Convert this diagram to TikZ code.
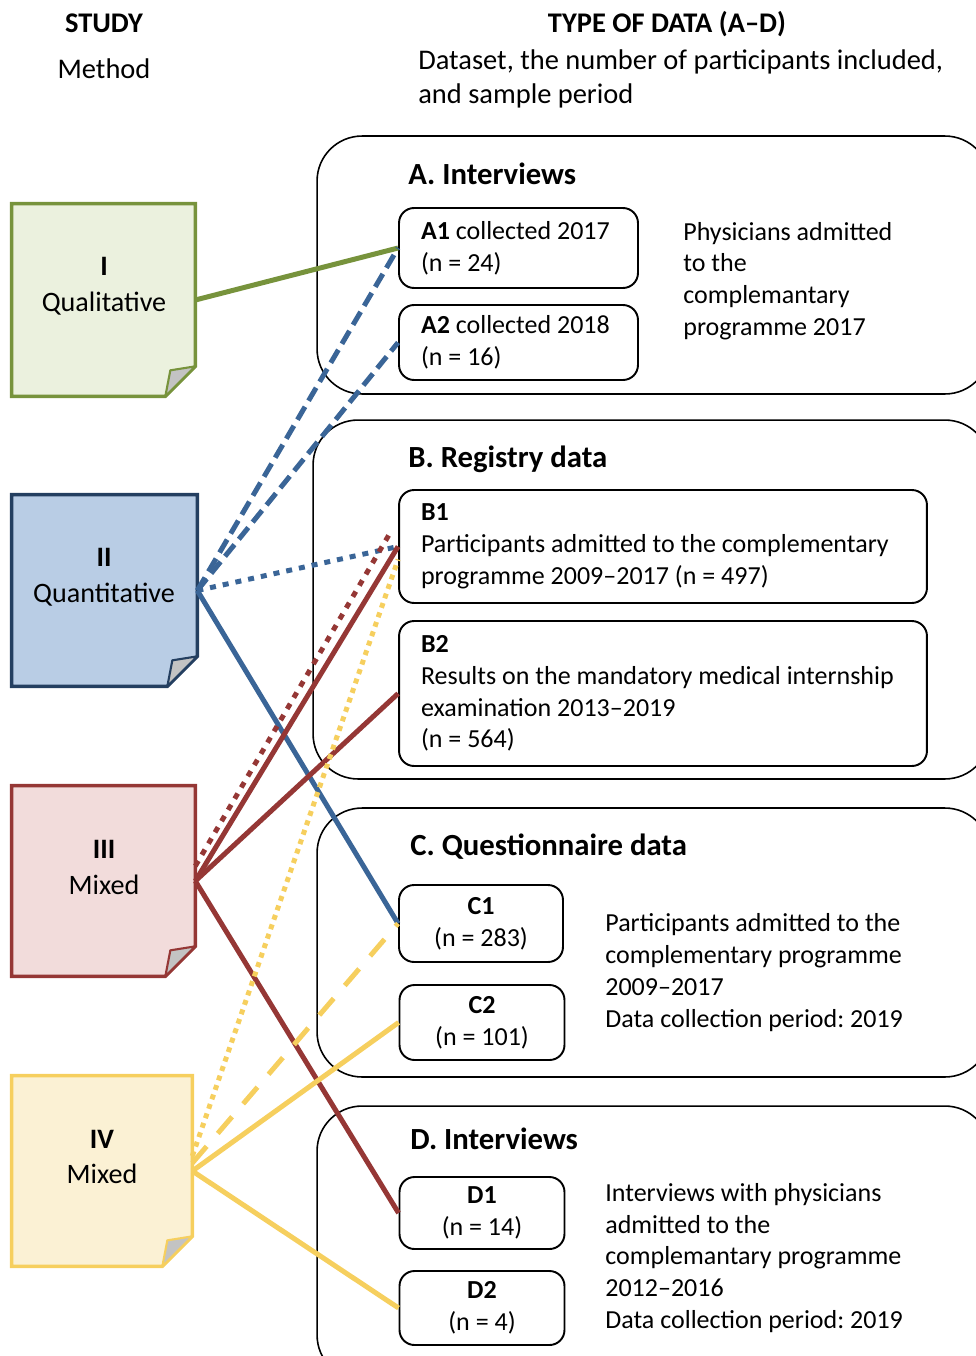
\documentclass[tikz,border=0pt]{standalone}
\usepackage{fontspec}
\setmainfont{Carlito}
\usetikzlibrary{calc,backgrounds}

\definecolor{lineI}{HTML}{77933C}
\definecolor{fillI}{HTML}{EBF1DE}
\definecolor{lineII}{HTML}{243F60}
\definecolor{fillII}{HTML}{B9CDE5}
\definecolor{connII}{HTML}{3A6597}
\definecolor{lineIII}{HTML}{953735}
\definecolor{fillIII}{HTML}{F2DCDB}
\definecolor{lineIV}{HTML}{F6CF5E}
\definecolor{fillIV}{HTML}{FBF1D4}
\definecolor{foldgrey}{HTML}{C3C3C3}

\newcommand{\datafont}{\fontsize{14.8}{18.1}\selectfont}
\newcommand{\studyfont}{\fontsize{16}{20.4}\selectfont}
\newcommand{\headfont}{\fontsize{16.2}{19.3}\selectfont}
\newcommand{\titlefont}{\fontsize{17.5}{21}\selectfont\bfseries}
\frenchspacing

\begin{document}
\begin{tikzpicture}[x=0.02cm, y=-0.02cm, font=\datafont,
  studybox/.style={minimum width=3.66cm, minimum height=3.84cm, inner sep=0pt},
  studytext/.style={align=center, font=\studyfont},
  studyshape/.style={line width=2pt, line join=miter},
  foldshape/.style={line width=1.2pt, fill=foldgrey, line join=round},
  grpbox/.style={draw, rounded corners=0.9cm, line width=0.9pt, inner sep=0pt, minimum width=13.46cm},
  grptitle/.style={anchor=west, inner sep=0pt, font=\titlefont},
  datbox/.style={draw, rounded corners=0.3cm, line width=1.1pt, inner xsep=0.44cm, inner ysep=0pt, align=flush left},
  smallbox/.style={draw, rounded corners=0.3cm, line width=1.1pt, inner sep=0pt, align=center, minimum width=3.3cm},
  sidetext/.style={anchor=west, align=flush left, inner sep=0pt},
  conn/.style={line width=0.1cm},
  dashedconn/.style={line width=0.1cm, dash pattern=on 0.3cm off 0.14cm},
  dottedconn/.style={line width=0.1cm, dash pattern=on 0.12cm off 0.14cm},
  ]
  \useasboundingbox (0,0) rectangle (975,1356);

  % Headers
  \node[font=\headfont\bfseries] (studyhead) at (104,23) {STUDY};
  \node[font=\headfont] (methodhead) at (104,69) {Method};
  \node[font=\headfont\bfseries] (datahead) at (667,24) {TYPE OF DATA (A--D)};
  \node[font=\headfont, anchor=west, align=flush left, inner sep=0pt] (datasub) at (418,79)
    {Dataset, the number of participants included,\\and sample period};

  % Study boxes
  \node[studybox] (I) at (103.5,300) {};
  \node[studybox, minimum width=3.7cm, minimum height=3.82cm] (II) at (104.5,590.5) {};
  \node[studybox, minimum height=3.8cm] (III) at (103.5,881) {};
  \node[studybox, minimum width=3.6cm, minimum height=3.8cm] (IV) at (102,1171) {};
  \node[studytext] (Itxt) at (104,286) {\textbf{I}\\Qualitative};
  \node[studytext] (IItxt) at (104,577.5) {\textbf{II}\\Quantitative};
  \node[studytext] (IIItxt) at (104,867.5) {\textbf{III}\\Mixed};
  \node[studytext] (IVtxt) at (102,1157) {\textbf{IV}\\Mixed};

  \begin{scope}[on background layer]
    \foreach \s in {I,II,III,IV} {
      \filldraw[studyshape, draw=line\s, fill=fill\s] (\s.north west) -- (\s.north east)
        -- ($(\s.south east)+(0,-30)$) -- ($(\s.south east)+(-30,0)$) -- (\s.south west) -- cycle;
      \filldraw[foldshape, draw=line\s] ($(\s.south east)+(0,-30)$) -- ($(\s.south east)+(-25,-26)$)
        -- ($(\s.south east)+(-30,0)$) -- cycle;
    }
  \end{scope}

  % Data groups
  \node[grpbox, minimum height=5.16cm] (grpA) at (653.5,265) {};
  \node[grpbox, minimum width=13.54cm, minimum height=7.18cm] (grpB) at (651.5,599.5) {};
  \node[grpbox, minimum height=5.38cm] (grpC) at (653.5,942.5) {};
  \node[grpbox, minimum height=5.48cm] (grpD) at (653.5,1243) {};
  \node[grptitle] (Atitle) at (408,174) {A. Interviews};
  \node[grptitle] (Btitle) at (408,459) {B. Registry data};
  \node[grptitle] (Ctitle) at (410,847) {C. Questionnaire data};
  \node[grptitle] (Dtitle) at (410,1139) {D. Interviews};

  % Datasets
  \node[datbox, text width=3.9cm, minimum height=1.6cm] (A1) at (518.5,248) {\textbf{A1} collected 2017\\(n = 24)};
  \node[datbox, text width=3.9cm, minimum height=1.5cm] (A2) at (518.5,342.5) {\textbf{A2} collected 2018\\(n = 16)};
  \node[datbox, text width=9.68cm, minimum height=2.26cm] (B1) at (663,546.5)
    {\textbf{B1}\\Participants admitted to the complementary\\programme 2009--2017 (n = 497)};
  \node[datbox, text width=9.68cm, minimum height=2.9cm] (B2) at (663,693.5)
    {\textbf{B2}\\Results on the mandatory medical internship\\examination 2013--2019\\(n = 564)};
  \node[smallbox, minimum width=3.28cm, minimum height=1.54cm] (C1) at (481,923.5) {\textbf{C1}\\(n = 283)};
  \node[smallbox, minimum height=1.5cm] (C2) at (482,1022.5) {\textbf{C2}\\(n = 101)};
  \node[smallbox, minimum height=1.44cm] (D1) at (482,1213) {\textbf{D1}\\(n = 14)};
  \node[smallbox, minimum height=1.48cm] (D2) at (482,1308) {\textbf{D2}\\(n = 4)};

  \node[sidetext] (Aside) at (683,281) {Physicians admitted\\to the\\complemantary\\programme 2017};
  \node[sidetext] (Cside) at (605,972.5) {Participants admitted to the\\complementary programme\\2009--2017\\Data collection period: 2019};
  \node[sidetext] (Dside) at (605,1258) {Interviews with physicians\\admitted to the\\complemantary programme\\2012--2016\\Data collection period: 2019};

  % Connectors
  \draw[conn, lineI] (I.east) -- (A1.west);
  \draw[dashedconn, connII] (II.east) -- (A1.west);
  \draw[dashedconn, connII] (II.east) -- (A2.west);
  \draw[dottedconn, connII] (II.east) -- (B1.west);
  \draw[conn, connII] (II.east) -- (C1.west);
  \draw[dottedconn, lineIII] ([yshift=0.3cm]III.east) -- ([xshift=-0.12cm, yshift=0.34cm]B1.west);
  \draw[conn, lineIII] (III.east) -- (B1.west);
  \draw[conn, lineIII] (III.east) -- (B2.west);
  \draw[conn, lineIII] (III.east) -- (D1.west);
  \draw[dottedconn, lineIV, dash pattern=on 0.1cm off 0.1cm] ([yshift=0.3cm]IV.east) -- ([yshift=-0.26cm]B1.west);
  \draw[dashedconn, lineIV, dash pattern=on 0.44cm off 0.34cm] ([yshift=0.16cm]IV.east) -- (C1.west);
  \draw[conn, lineIV] (IV.east) -- (C2.west);
  \draw[conn, lineIV] (IV.east) -- (D2.west);

\end{tikzpicture}
\end{document}
